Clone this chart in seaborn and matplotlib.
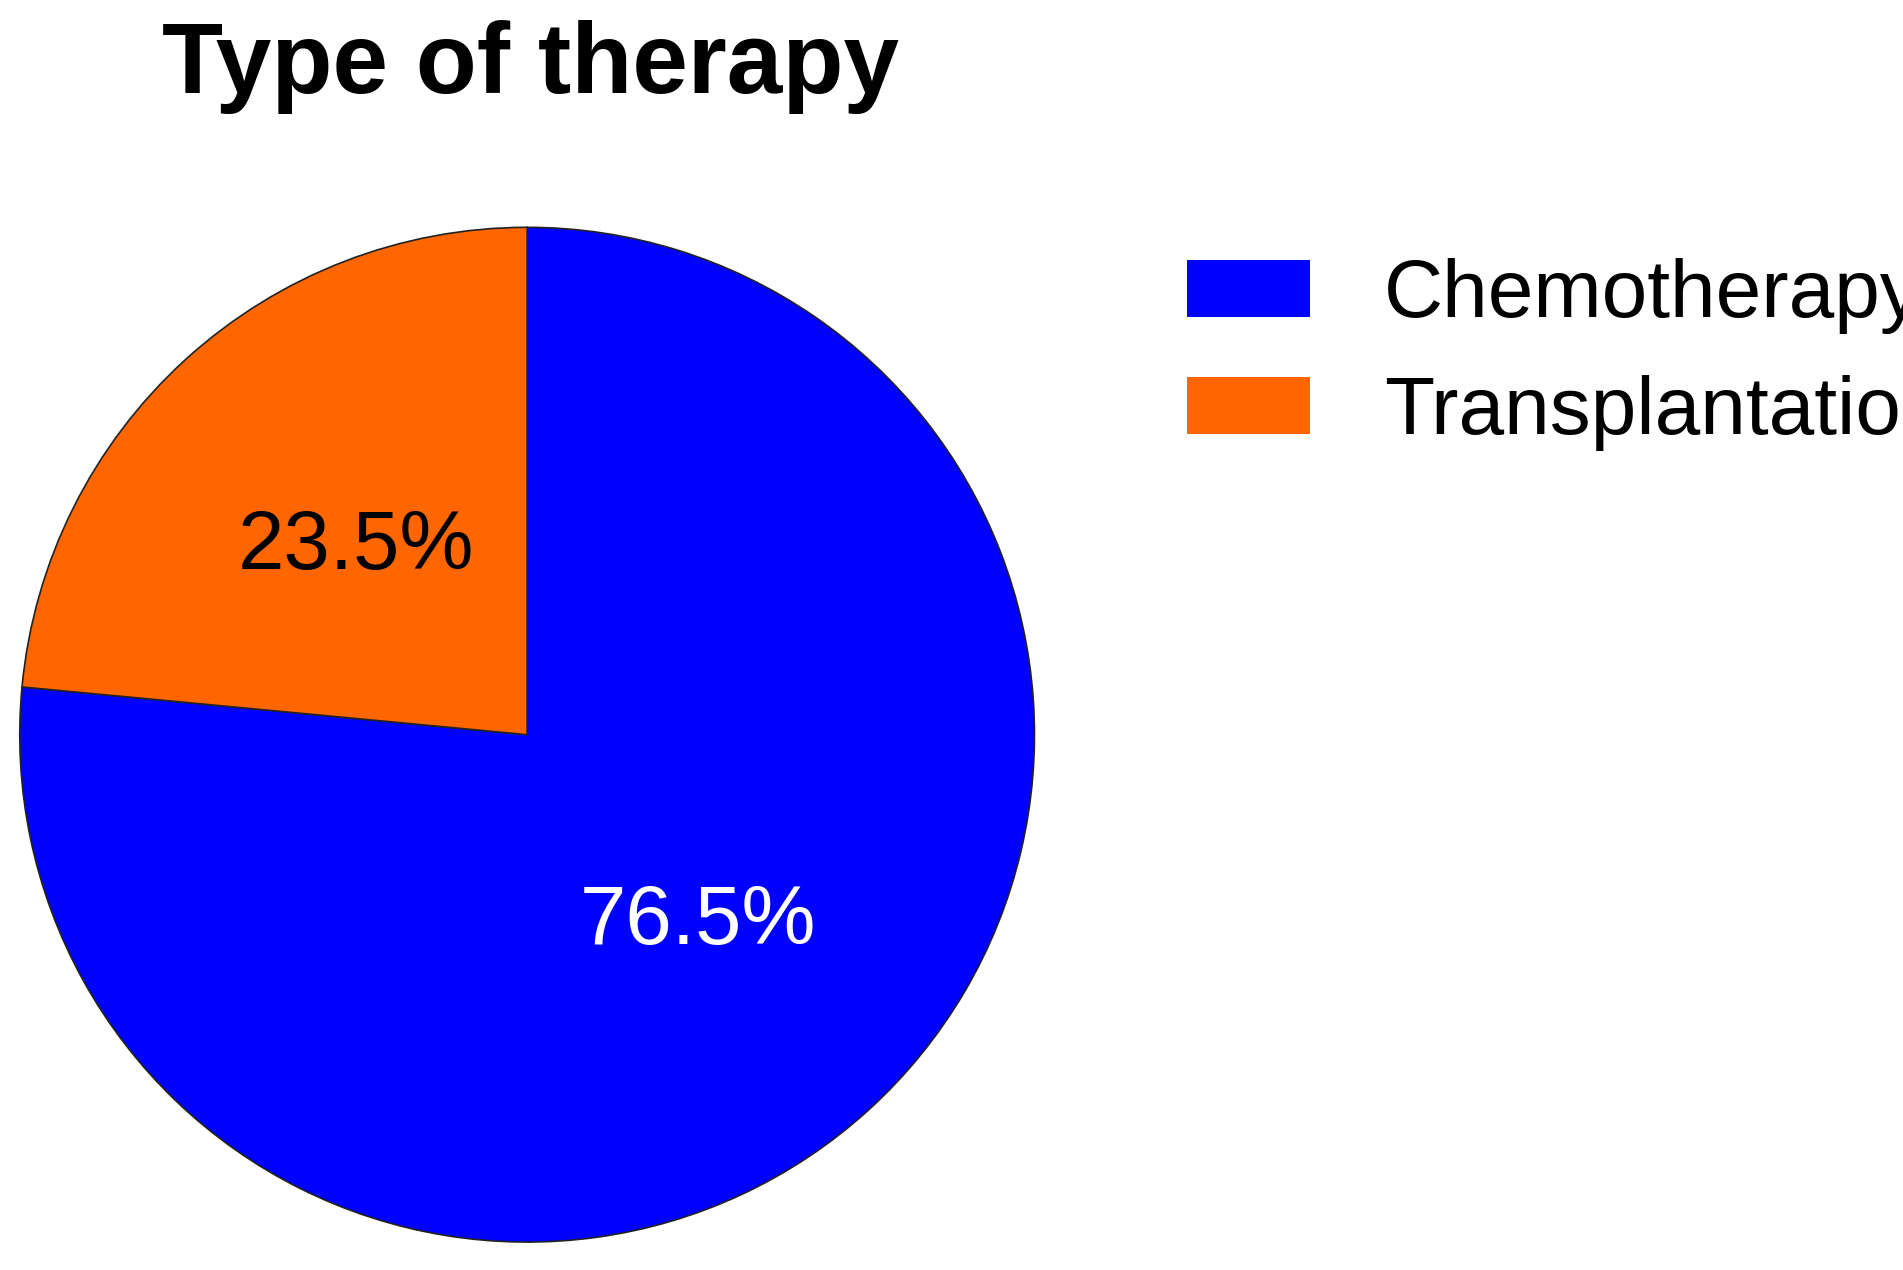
import matplotlib
matplotlib.use("Agg")
import matplotlib.pyplot as plt
import matplotlib.patches as mpatches
import seaborn as sns

sns.set_style("white")
plt.rcParams['font.family'] = ['Liberation Sans', 'DejaVu Sans']
plt.rcParams['text.color'] = 'black'

categories = ["Chemotherapy", "Transplantation"]
values = [76.5, 23.5]
colors = ["#0000FF", "#FF6600"]

fig = plt.figure(figsize=(19.03, 12.7), dpi=100)
ax = fig.add_axes([0.009, 0.020, 0.536, 0.803])
wedges, texts, autotexts = ax.pie(values, colors=colors, startangle=90, counterclock=False,
                                  autopct='%1.1f%%', pctdistance=0.5,
                                  wedgeprops=dict(edgecolor='#222222', linewidth=1.2),
                                  textprops=dict(fontsize=60))
autotexts[0].set_color('white')
autotexts[1].set_color('black')
ax.set_xlim(-1.005, 1.005)
ax.set_ylim(-1.005, 1.005)
ax.set_aspect('equal')

fig.text(0.279, 0.947, "Type of therapy", ha='center', va='center', fontsize=72,
         fontweight='bold', color='black')

handles = [mpatches.Patch(facecolor=c, edgecolor='none') for c in colors]
fig.legend(handles, categories, loc='upper left', bbox_to_anchor=(0.585, 0.855), frameon=False,
           fontsize=59, handlelength=1.5, handleheight=0.7, handletextpad=0.9, labelspacing=0.5,
           labelcolor='black')

fig.savefig("out.png", dpi=100)
